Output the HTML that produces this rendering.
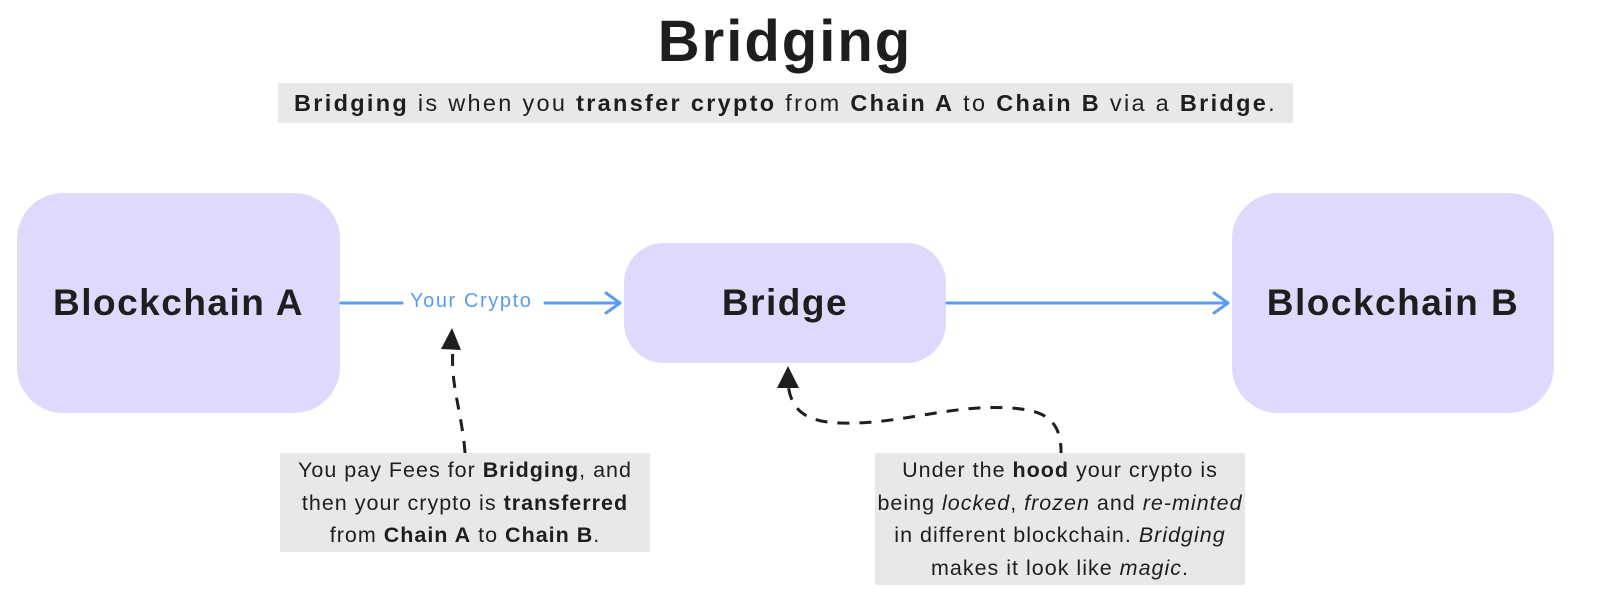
<!DOCTYPE html>
<html><head><meta charset="utf-8"><style>
body{margin:0;width:1600px;height:613px;background:#fff;position:relative;overflow:hidden;font-family:"Liberation Sans","DejaVu Sans",sans-serif;color:#1e1e1e}
.a{position:absolute}
.box{position:absolute;background:#dedafd;display:flex;align-items:center;justify-content:center;font-weight:bold;font-size:37px;letter-spacing:1.5px}
.note{position:absolute;background:#e8e8e8;text-align:center;font-size:21.5px;line-height:32.5px;padding-top:1px;letter-spacing:1px;white-space:nowrap}
</style></head><body>
<div class="a" style="left:0;width:1570px;top:8px;text-align:center;font-size:58px;font-weight:bold;letter-spacing:2px">Bridging</div>
<div class="a" style="left:278px;top:83px;width:1015px;height:40px;background:#e8e8e8;font-size:23.5px;line-height:40px;text-align:center;letter-spacing:2.3px;white-space:nowrap"><b>Bridging</b> is when you <b>transfer crypto</b> from <b>Chain A</b> to <b>Chain B</b> via a <b>Bridge</b>.</div>
<div class="box" style="left:17px;top:193px;width:323px;height:220px;border-radius:46px">Blockchain A</div>
<div class="box" style="left:624px;top:243px;width:322px;height:120px;border-radius:40px">Bridge</div>
<div class="box" style="left:1232px;top:193px;width:322px;height:220px;border-radius:46px">Blockchain B</div>
<svg class="a" style="left:0;top:0" width="1600" height="613">
<g stroke="#5b9cf0" stroke-width="3" fill="none" stroke-linecap="round" stroke-linejoin="round">
<line x1="341" y1="303" x2="402" y2="303"/><line x1="545" y1="303" x2="620" y2="303"/>
<polyline points="606,293 620,303 606,313"/>
<line x1="947" y1="303" x2="1228" y2="303"/>
<polyline points="1214,293 1228,303 1214,313"/>
</g>
<g stroke="#1e1e1e" stroke-width="3" fill="none" stroke-dasharray="12 10">
<path d="M465,453 C462,410 448,380 454,340"/>
<path d="M1061,455 C1062,420 1045,410 1010,408 C950,404 900,425 840,423 C800,422 790,405 788,383"/>
</g>
<polygon points="452,328 441,349 461,350" fill="#1e1e1e"/>
<polygon points="788,366 777,388 799,388" fill="#1e1e1e"/>
</svg>
<div class="a" style="left:410px;top:290px;font-size:20px;color:#5b9cf0;letter-spacing:1.6px">Your Crypto</div>
<div class="note" style="left:280px;top:453px;width:370px;height:98px">You pay Fees for <b>Bridging</b>, and<br>then your crypto is <b>transferred</b><br>from <b>Chain A</b> to <b>Chain B</b>.</div>
<div class="note" style="left:875px;top:453px;width:370px;height:131px">Under the <b>hood</b> your crypto is<br>being <i>locked</i>, <i>frozen</i> and <i>re-minted</i><br>in different blockchain. <i>Bridging</i><br>makes it look like <i>magic</i>.</div>
</body></html>
